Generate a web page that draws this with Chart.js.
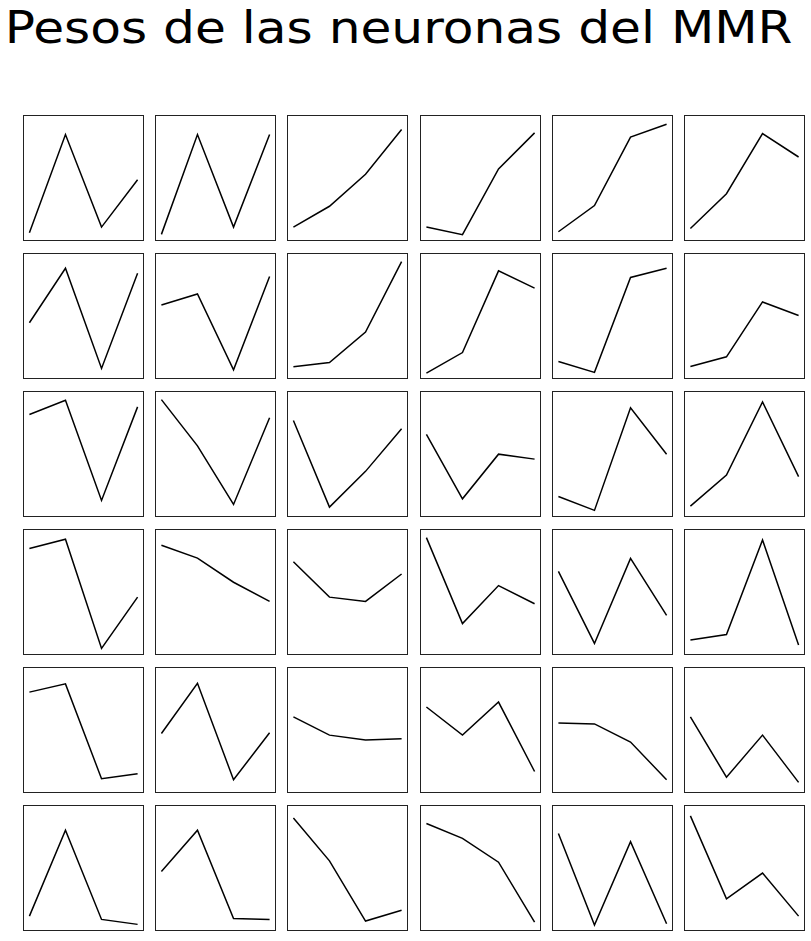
<!DOCTYPE html>
<html>
<head>
<meta charset="utf-8">
<script src="https://cdn.jsdelivr.net/npm/chart.js@4/dist/chart.umd.min.js"></script>
<style>
  html, body { margin: 0; padding: 0; background: #fff; }
  body { width: 811px; height: 941px; position: relative; overflow: hidden; }
  #titulo {
    position: absolute; left: -7px; top: 5px; width: 811px; text-align: center;
    font-family: "DejaVu Sans", sans-serif; font-size: 45px; line-height: 45px; color: #000;
    transform: scaleX(1.116); transform-origin: 405px 0;
  }
  .celda { position: absolute; border: 1px solid #222; width: 119px; height: 124px; }
  .celda canvas { display: block; }
</style>
</head>
<body>
<div id="titulo">Pesos de las neuronas del MMR</div>
<div id="rejilla"></div>
<script>
// Posiciones de entrada (eje x) y pesos de cada neurona.
var entradas = [0, 1, 2, 3];

var fila1 = [
  [25, 322, 42, 185],
  [20, 322, 42, 322],
  [42, 105, 202, 337],
  [42, 19, 218, 327],
  [28, 107, 314, 353],
  [38, 143, 325, 254]
];
var fila2 = [
  [170, 335, 32, 320],
  [224, 257, 28, 310],
  [37, 50, 142, 355],
  [18, 80, 327, 275],
  [53, 20, 307, 335],
  [38, 67, 233, 192]
];
var fila3 = [
  [310, 353, 50, 333],
  [355, 215, 38, 300],
  [292, 30, 138, 267],
  [250, 55, 190, 175],
  [62, 20, 330, 190],
  [33, 127, 348, 122]
];
var fila4 = [
  [322, 350, 20, 175],
  [332, 293, 220, 162],
  [282, 175, 162, 245],
  [355, 95, 210, 155],
  [253, 35, 292, 120],
  [45, 62, 348, 30]
];
var fila5 = [
  [305, 330, 43, 58],
  [180, 332, 40, 182],
  [230, 175, 160, 164],
  [260, 175, 275, 65],
  [212, 209, 154, 40],
  [230, 48, 175, 32]
];
var fila6 = [
  [45, 305, 35, 20],
  [180, 305, 38, 35],
  [342, 212, 30, 63],
  [325, 280, 208, 27],
  [295, 18, 270, 22],
  [348, 97, 175, 45]
];

var filas = [fila1, fila2, fila3, fila4, fila5, fila6];
var Y_MIN = 3, Y_MAX = 378;

(function () {
  "use strict";
  var rejilla = document.getElementById("rejilla");

  function miniGrafico(celda, pesos) {
    var canvas = document.createElement("canvas");
    canvas.width = 119;
    canvas.height = 124;
    celda.appendChild(canvas);
    var puntos = [];
    for (var i = 0; i < pesos.length; i++) puntos.push({ x: entradas[i], y: pesos[i] });
    new Chart(canvas, {
      type: "line",
      data: { datasets: [{ data: puntos, borderColor: "#000", borderWidth: 1.5,
              pointRadius: 0, tension: 0, fill: false }] },
      options: {
        responsive: false, animation: false, events: [],
        layout: { padding: 0 },
        plugins: { legend: { display: false }, tooltip: { enabled: false } },
        scales: {
          x: { type: "linear", display: false, min: -0.15, max: 3.15 },
          y: { display: false, min: Y_MIN, max: Y_MAX }
        }
      }
    });
  }

  for (var r = 0; r < filas.length; r++) {
    for (var c = 0; c < filas[r].length; c++) {
      var celda = document.createElement("div");
      celda.className = "celda";
      celda.style.left = Math.round(23 + c * 132.2) + "px";
      celda.style.top = (115 + r * 138) + "px";
      rejilla.appendChild(celda);
      miniGrafico(celda, filas[r][c]);
    }
  }
})();
</script>
</body>
</html>
